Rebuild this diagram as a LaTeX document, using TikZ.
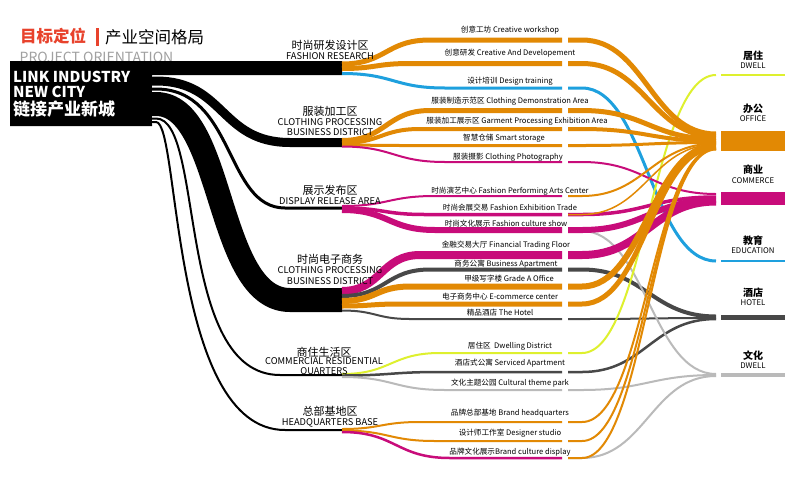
\documentclass[tikz,border=0pt]{standalone}
\usepackage{fontspec}
\setmainfont{Noto Sans CJK SC}
\definecolor{cor}{RGB}{226,137,4}
\definecolor{cmg}{RGB}{200,12,122}
\definecolor{cbl}{RGB}{30,160,222}
\definecolor{cyg}{RGB}{222,240,46}
\definecolor{cdg}{RGB}{72,72,72}
\definecolor{clg}{RGB}{186,186,186}
\definecolor{ctr}{RGB}{232,66,44}
\newcommand\flowL[5]{\draw[#1, line width=#2pt] (342,#3) .. controls ({(342+#5)/2},#3) and ({(342+#5)/2},#4) .. (#5,#4) -- (562,#4);}
\newcommand\flowR[4]{\draw[#1, line width=#2pt] (568,#3) -- (582,#3) .. controls (645,#3) and (652,#4) .. (716,#4);}
\newcommand\blk[6]{\draw[white, line width=#1pt+2pt] (152,#2) -- (156,#2) .. controls (#3,#2) and (#4,#5) .. (#6,#5) -- (342,#5);
\draw[black, line width=#1pt] (152,#2) -- (156,#2) .. controls (#3,#2) and (#4,#5) .. (#6,#5) -- (342,#5);}
\begin{document}
\begin{tikzpicture}[x=1pt,y=-1pt, line cap=butt,
 item/.style={font=\fontsize{7.6}{8}\selectfont, inner sep=0pt},
 catcn/.style={font=\fontsize{11}{12}\selectfont, inner sep=0pt},
 caten/.style={font=\fontsize{9.3}{10}\selectfont, inner sep=0pt},
 destcn/.style={font=\bfseries\fontsize{10}{11}\selectfont, inner sep=0pt},
 desten/.style={font=\fontsize{7.8}{8}\selectfont, inner sep=0pt},
 boxtxt/.style={anchor=base west, text=white, inner sep=0pt},
]
\useasboundingbox (0,0) rectangle (798,480);
\fill[white] (0,0) rectangle (798,480);

% title
\node[anchor=west, text=ctr, font=\bfseries\fontsize{16.5}{17}\selectfont, inner sep=0pt] (t1) at (20,36.5) {目标定位};
\fill[ctr] (96,28) rectangle (98.5,46);
\node[anchor=west, font=\fontsize{16.5}{17}\selectfont, inner sep=0pt] (t2) at (105,37) {产业空间格局};
\node[anchor=base west, text={rgb,255:red,160;green,160;blue,160}, font=\fontsize{14}{14}\selectfont, inner sep=0pt] (t3) at (19.5,62) {PROJECT ORIENTATION};

% black source box and flows
\fill[black] (10,61) -- (342,61) -- (342,75) -- (152,75) -- (152,126) -- (10,126) -- cycle;
\blk{9}{81}{225}{220}{142.5}{290}
\blk{3}{89}{235}{225}{208}{285}
\blk{24}{104}{225}{215}{300}{290}
\blk{2}{118.5}{205}{175}{375}{280}
\blk{2}{122}{180}{170}{430}{285}

% left coloured segments
\flowL{cor}{5}{64}{40}{430}
\flowL{cor}{5}{68.5}{63.5}{410}
\flowL{cbl}{3}{73.5}{88}{445}
\flowL{cor}{5}{140.5}{110.5}{430}
\flowL{cor}{4}{143}{129}{420}
\flowL{cor}{3}{145}{145.5}{400}
\flowL{cmg}{2}{146.5}{162}{445}
\flowL{cmg}{2}{206}{196}{435}
\flowL{cmg}{3.5}{208}{214.5}{425}
\flowL{cmg}{6}{210}{230}{435}
\flowL{cmg}{8}{291}{255}{420}
\flowL{cdg}{4}{296}{269.5}{430}
\flowL{cor}{6}{301}{286.5}{410}
\flowL{cor}{5}{306}{304}{400}
\flowL{cdg}{2}{310.5}{319}{410}
\flowL{cyg}{2}{374}{353}{440}
\flowL{cdg}{2.5}{375.5}{372}{440}
\flowL{clg}{2}{377}{390}{445}
\flowL{cor}{2}{429}{422}{420}
\flowL{cor}{2}{430.5}{441}{435}
\flowL{cmg}{2.5}{432}{458}{450}

% right segments
\flowR{cdg}{4}{269.5}{316.5}
\flowR{cdg}{2}{319}{318}
\flowR{cdg}{2.5}{372}{319}
\flowR{clg}{2}{231}{374}
\flowR{clg}{2}{390}{375}
\flowR{clg}{2}{458}{376}
\flowR{cbl}{3}{88}{261}
\flowR{cyg}{2}{353}{75}
\flowR{cmg}{2}{162}{194}
\flowR{cmg}{3.5}{214.5}{197}
\flowR{cmg}{6}{230}{200}
\flowR{cmg}{8}{255}{201.5}
\flowR{cor}{5}{40}{134}
\flowR{cor}{5}{63.5}{136.5}
\flowR{cor}{5}{110.5}{139}
\flowR{cor}{4}{129}{141}
\flowR{cor}{3}{145.5}{142.5}
\flowR{cor}{2}{196}{143.5}
\flowR{cor}{1.5}{214.5}{144.5}
\flowR{cor}{6}{286.5}{145.5}
\flowR{cor}{5}{304}{147.5}
\flowR{cor}{2}{422}{148.5}
\flowR{cor}{2}{441}{149}
\flowR{cor}{2}{458}{149.5}

% destination bars
\draw[cyg, line width=2pt] (721,75) -- (785,75);
\fill[cor] (721,131) rectangle (785,151);
\fill[cmg] (721,192) rectangle (785,205);
\draw[cbl, line width=2.5pt] (721,261) -- (785,261);
\fill[cdg] (721,315) rectangle (785,320);
\fill[clg] (721,373) rectangle (785,377);

% box text
\node[boxtxt, font=\bfseries\fontsize{15}{16}\selectfont] (b1) at (13,82) {LINK INDUSTRY};
\node[boxtxt, font=\bfseries\fontsize{15}{16}\selectfont] (b2) at (13,97) {NEW CITY};
\node[boxtxt, font=\bfseries\fontsize{17}{18}\selectfont] (b3) at (13,115) {链接产业新城};

% category labels
\node[catcn] (c1a) at (330,45) {时尚研发设计区};
\node[caten] (c1b) at (330,56) {FASHION RESEARCH};
\node[catcn] (c2a) at (330,111) {服装加工区};
\node[caten] (c2b) at (330,122.5) {CLOTHING PROCESSING};
\node[caten] (c2c) at (330,132.5) {BUSINESS DISTRICT};
\node[catcn] (c3a) at (330,190) {展示发布区};
\node[caten] (c3b) at (330,201) {DISPLAY RELEASE AREA};
\node[catcn] (c4a) at (330,259) {时尚电子商务};
\node[caten] (c4b) at (330,270.5) {CLOTHING PROCESSING};
\node[caten] (c4c) at (330,281.5) {BUSINESS DISTRICT};
\node[catcn] (c5a) at (324,352) {商住生活区};
\node[caten] (c5b) at (324,361.5) {COMMERCIAL RESIDENTIAL};
\node[caten] (c5c) at (324,371.5) {QUARTERS};
\node[catcn] (c6a) at (330,411.5) {总部基地区};
\node[caten] (c6b) at (330,422.5) {HEADQUARTERS BASE};

% item labels
\node[item] (i1) at (510,30) {创意工坊 Creative workshop};
\node[item] (i2) at (510,53) {创意研发 Creative And Developement};
\node[item] (i3) at (510,81) {设计培训 Design training};
\node[item] (i4) at (510,101) {服装制造示范区 Clothing Demonstration Area};
\node[item] (i5) at (517,121) {服装加工展示区 Garment Processing Exhibition Area};
\node[item] (i6) at (504,138) {智慧仓储 Smart storage};
\node[item] (i7) at (508,157) {服装摄影 Clothing Photography};
\node[item] (i8) at (510,191) {时尚演艺中心 Fashion Performing Arts Center};
\node[item] (i9) at (510,208) {时尚会展交易 Fashion Exhibition Trade};
\node[item] (i10) at (506,224) {时尚文化展示 Fashion culture show};
\node[item] (i11) at (506,245) {金融交易大厅 Financial Trading Floor};
\node[item] (i12) at (506,264) {商务公寓 Business Apartment};
\node[item] (i13) at (509,279) {甲级写字楼 Grade A Office};
\node[item] (i14) at (500,297) {电子商务中心 E-commerce center};
\node[item] (i15) at (500,313) {精品酒店 The Hotel};
\node[item] (i16) at (510,346) {居住区\ \ Dwelling District};
\node[item] (i17) at (510,363) {酒店式公寓 Serviced Apartment};
\node[item] (i18) at (510,383) {文化主题公园 Cultural theme park};
\node[item] (i19) at (510,413) {品牌总部基地 Brand headquarters};
\node[item] (i20) at (510,433) {设计师工作室 Designer studio};
\node[item] (i21) at (510,452) {品牌文化展示Brand culture display};

% destination labels
\node[destcn] (d1a) at (753,56) {居住};
\node[desten] (d1b) at (753,66) {DWELL};
\node[destcn] (d2a) at (753,109) {办公};
\node[desten] (d2b) at (753,119) {OFFICE};
\node[destcn] (d3a) at (753,170) {商业};
\node[desten] (d3b) at (753,181) {COMMERCE};
\node[destcn] (d4a) at (753,241) {教育};
\node[desten] (d4b) at (753,251) {EDUCATION};
\node[destcn] (d5a) at (753,293) {酒店};
\node[desten] (d5b) at (753,303) {HOTEL};
\node[destcn] (d6a) at (753,356) {文化};
\node[desten] (d6b) at (753,366) {DWELL};
\end{tikzpicture}
\end{document}
